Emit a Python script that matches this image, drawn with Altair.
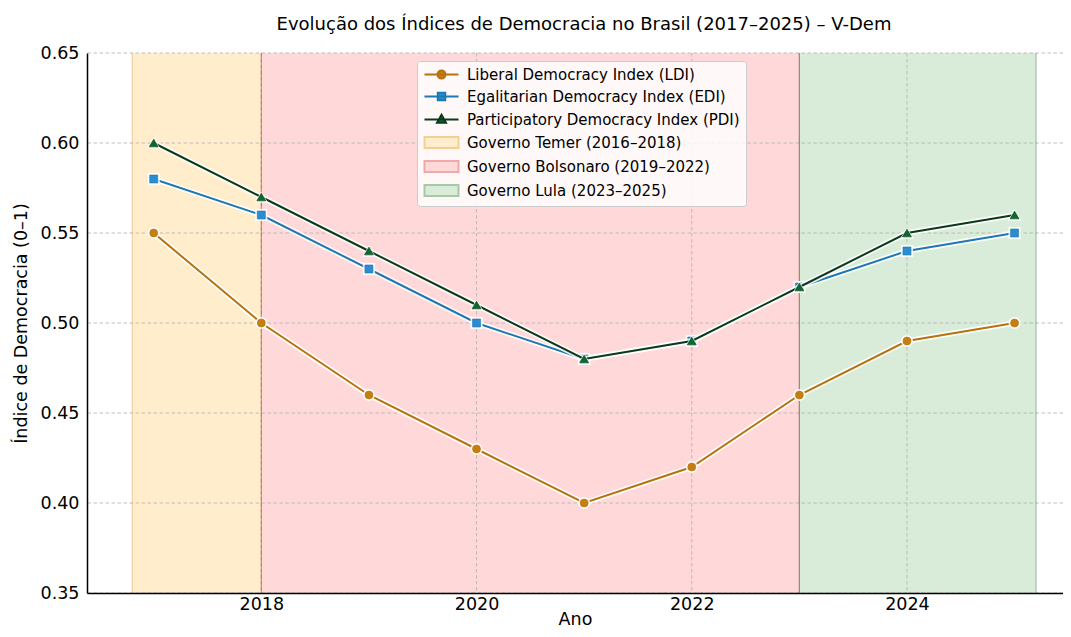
import math
import altair as alt
import pandas as pd

# ---------------- data ----------------
years = [2017, 2018, 2019, 2020, 2021, 2022, 2023, 2024, 2025]
ldi = [0.55, 0.50, 0.46, 0.43, 0.40, 0.42, 0.46, 0.49, 0.50]
edi = [0.58, 0.56, 0.53, 0.50, 0.48, 0.49, 0.52, 0.54, 0.55]
pdi = [0.60, 0.57, 0.54, 0.51, 0.48, 0.49, 0.52, 0.55, 0.56]
series_names = [
    "Liberal Democracy Index (LDI)",
    "Egalitarian Democracy Index (EDI)",
    "Participatory Democracy Index (PDI)",
]

gov_names = [
    "Governo Temer (2016–2018)",
    "Governo Bolsonaro (2019–2022)",
    "Governo Lula (2023–2025)",
]
gov_start = [2016.8, 2018, 2023]
gov_end = [2018, 2023, 2025.2]

x_ticks = [2018, 2020, 2022, 2024]
y_ticks = [0.35, 0.40, 0.45, 0.50, 0.55, 0.60, 0.65]

# ---------------- styles ----------------
FONT = "DejaVu Sans"
line_colors = ["#b8720d", "#1f77b4", "#0a3a1a"]
marker_colors = ["#c47f10", "#2b8cd0", "#0b6b2c"]
marker_shapes = ["circle", "square", "triangle-up"]
marker_sizes = [64, 64, 80]
gov_fills = ["#ffedcc", "#ffd9d9", "#d9ecd9"]
gov_edges = ["#d08000", "#a00000", "#005000"]
gov_legend_edges = ["#f3cf95", "#f0a8a8", "#a8c9a5"]

rows = []
for name, vals in zip(series_names, [ldi, edi, pdi]):
    for yr, v in zip(years, vals):
        rows.append({"series": name, "year": yr, "value": v})
df = pd.DataFrame(rows)
gov_df = pd.DataFrame({"gov": gov_names, "start": gov_start, "end": gov_end})
xg_df = pd.DataFrame({"year": x_ticks})
yg_df = pd.DataFrame({"value": y_ticks})
legend_df = pd.DataFrame({"label": series_names + gov_names})

x_scale = alt.Scale(domain=[2016.38, 2025.45], nice=False, zero=False)
y_scale = alt.Scale(domain=[0.35, 0.65], nice=False, zero=False)

x_axis = alt.Axis(
    title="Ano", values=x_ticks, format="d", grid=False, tickSize=0,
    domainColor="black", domainWidth=1.5, labelFont=FONT, labelFontSize=17.5,
    labelColor="black", labelPadding=2, labelFlush=False, titleFont=FONT,
    titleFontSize=17.5, titleFontWeight="normal", titleColor="black",
    titleBaseline="bottom", titleY=35, zindex=1,
)
y_axis = alt.Axis(
    title="Índice de Democracia (0–1)", values=y_ticks, format=".2f", grid=False,
    tickSize=0, domainColor="black", domainWidth=1.5, labelFont=FONT,
    labelFontSize=17.5, labelColor="black", labelPadding=8, labelFlush=False,
    titleFont=FONT, titleFontSize=17.5, titleFontWeight="normal",
    titleColor="black", titlePadding=10, zindex=1,
)


def X(field):
    return alt.X(f"{field}:Q", scale=x_scale, axis=x_axis)


def Y(field):
    return alt.Y(f"{field}:Q", scale=y_scale, axis=y_axis)


layers = []

# government spans
layers.append(
    alt.Chart(gov_df).mark_rect().encode(
        x=X("start"),
        x2="end:Q",
        color=alt.Color("gov:N", scale=alt.Scale(domain=gov_names, range=gov_fills), legend=None),
    )
)

# grid
grid_style = dict(color="#b0b0b0", strokeDash=[3.5, 2.5], strokeWidth=0.8)
layers.append(alt.Chart(yg_df).mark_rule(**grid_style).encode(y=Y("value")))
layers.append(alt.Chart(xg_df).mark_rule(**grid_style).encode(x=X("year")))

# span edges
for name, ec in zip(gov_names, gov_edges):
    base = alt.Chart(gov_df).transform_filter(alt.datum.gov == name)
    layers.append(base.mark_rule(color=ec, strokeOpacity=0.3, strokeWidth=1.2).encode(x=X("start")))
    layers.append(base.mark_rule(color=ec, strokeOpacity=0.3, strokeWidth=1.2).encode(x=X("end")))

# series
for name, lc, mc, shp, sz in zip(series_names, line_colors, marker_colors, marker_shapes, marker_sizes):
    base = alt.Chart(df).transform_filter(alt.datum.series == name)
    layers.append(base.mark_line(color="white", strokeWidth=5.5, opacity=0.85).encode(x=X("year"), y=Y("value")))
    layers.append(base.mark_line(color=lc, strokeWidth=2).encode(x=X("year"), y=Y("value")))
    layers.append(base.mark_point(shape=shp, filled=True, color="white", size=sz * 2.3, opacity=0.85).encode(x=X("year"), y=Y("value")))
    layers.append(base.mark_point(shape=shp, filled=True, color=mc, size=sz, opacity=1, stroke=lc, strokeWidth=0.6).encode(x=X("year"), y=Y("value")))


# legend (symbols drawn as line + marker, or patch)
def poly(n, r):
    pts = [(r * math.cos(2 * math.pi * k / n), r * math.sin(2 * math.pi * k / n)) for k in range(n)]
    return "M" + "L".join(f"{a:.3f},{b:.3f}" for a, b in pts) + "Z"


LINE = "M-3.4,0L3.4,0"
legend_shapes = [
    LINE + poly(16, 0.8),
    LINE + "M-0.75,-0.75L0.75,-0.75L0.75,0.75L-0.75,0.75Z",
    LINE + "M0,-0.95L0.9,0.65L-0.9,0.65Z",
    "M-3.4,-1.1L3.4,-1.1L3.4,1.1L-3.4,1.1Z",
    "M-3.4,-1.1L3.4,-1.1L3.4,1.1L-3.4,1.1Z",
    "M-3.4,-1.1L3.4,-1.1L3.4,1.1L-3.4,1.1Z",
]
labels = series_names + gov_names
leg = alt.Legend(
    title=None, orient="none", legendX=330, legendY=8,
    fillColor="rgba(255,255,255,0.82)", strokeColor="#cccccc", cornerRadius=3,
    padding=6, labelFont=FONT, labelFontSize=15, labelColor="black", labelLimit=0,
    symbolSize=100, symbolStrokeWidth=2, symbolOffset=11, labelOffset=18,
    rowPadding=5, symbolOpacity=1,
)
layers.append(
    alt.Chart(legend_df).transform_filter("false").mark_point(filled=True, opacity=1).encode(
        fill=alt.Fill("label:N", scale=alt.Scale(domain=labels, range=marker_colors + gov_fills), legend=leg),
        stroke=alt.Stroke("label:N", scale=alt.Scale(domain=labels, range=line_colors + gov_legend_edges), legend=leg),
        shape=alt.Shape("label:N", scale=alt.Scale(domain=labels, range=legend_shapes), legend=leg),
    )
)

chart = alt.layer(*layers).properties(
    width=976,
    height=540,
    title=alt.TitleParams(
        "Evolução dos Índices de Democracia no Brasil (2017–2025) – V-Dem",
        font=FONT, fontSize=18, fontWeight="normal", color="black",
        anchor="middle", offset=10, dx=9,
    ),
    padding={"left": 79, "top": 45, "right": 0, "bottom": 36},
    autosize=alt.AutoSizeParams(type="none"),
).configure_view(stroke=None)

chart.save("out.html", embed_options={"renderer": "svg", "actions": False})
